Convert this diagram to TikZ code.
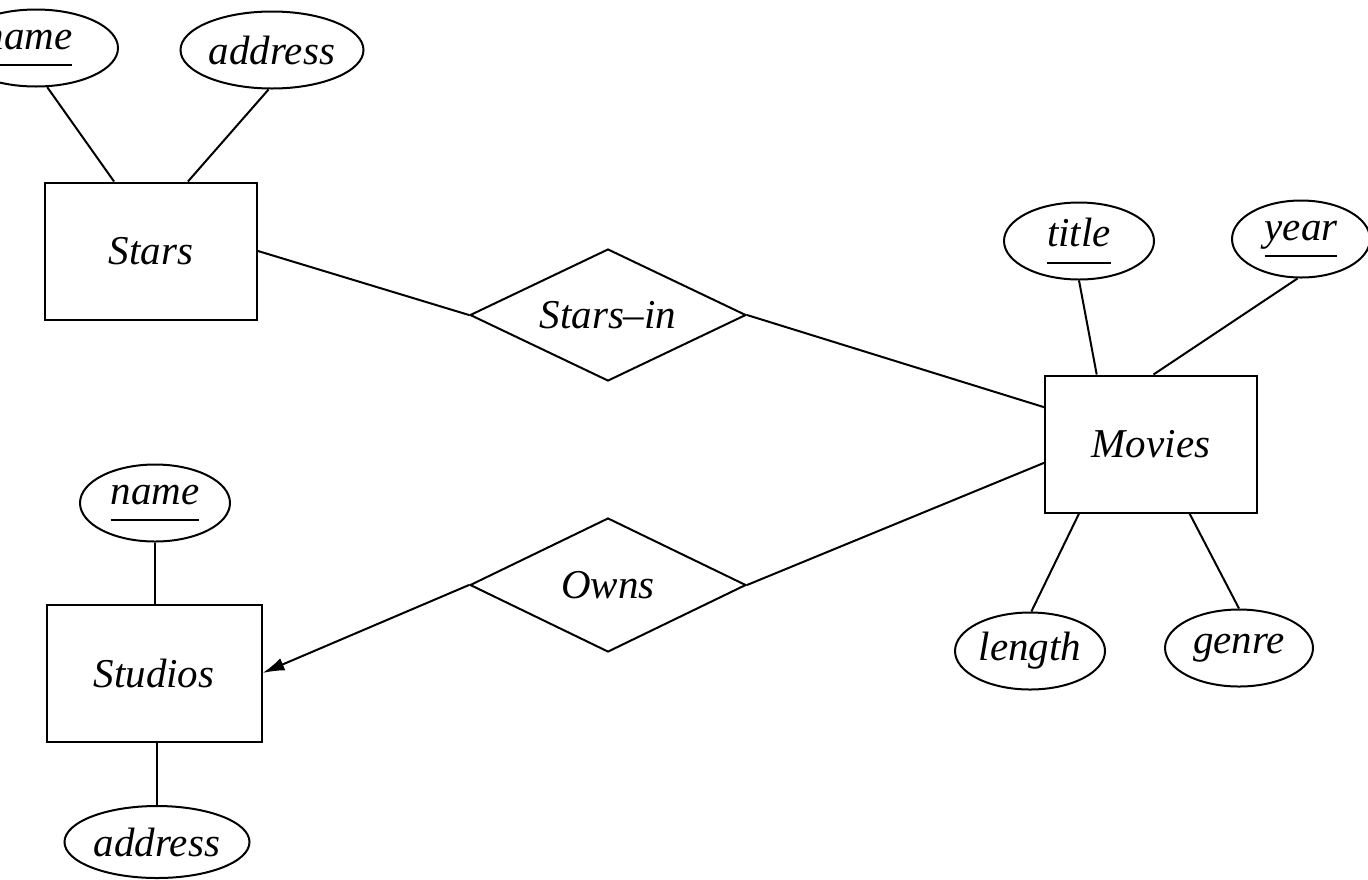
\documentclass[tikz,border=0pt]{standalone}
\usepackage{fontspec}
\setmainfont{Liberation Serif}
\usetikzlibrary{shapes.geometric,arrows.meta}
% key attribute: text with a rule set well below the baseline
\newcommand\keyattr[1]{\setbox0=\hbox{#1}\rlap{\copy0}\raisebox{-8.5pt}{\rule{\wd0}{0.9pt}}}
\begin{document}
\begin{tikzpicture}[x=0.5pt,y=-0.5pt,line width=1pt,
  font=\fontsize{20.5}{24}\selectfont\itshape,
  entity/.style={draw,rectangle,inner sep=0pt,minimum width=106pt,minimum height=68.5pt},
  attr/.style={draw,ellipse,inner sep=0pt,minimum height=38.5pt},
  rel/.style={draw,diamond,aspect=2,inner sep=0pt,minimum width=138pt,minimum height=66pt},
  isa/.style={-{Latex[length=11pt,width=6.5pt]}}]
\useasboundingbox (0,0) rectangle (1368,879);
\clip (0,0) rectangle (1368,879);

% entity sets
\node[entity] (stars) at (151,251) {\raisebox{-2.5pt}{Stars}};
\node[entity] (movies) at (1151,444) {\raisebox{-2.5pt}{Movies}};
\node[entity,minimum width=107.5pt] (studios) at (154,673) {\raisebox{-2pt}{Studios}};

% relationships
\node[rel] (starsin) at (608,315) {Stars\textendash in};
\node[rel,minimum height=67pt] (owns) at (608,585) {Owns};

% attributes
\node[attr,minimum width=82pt] (starname) at (36,48) {\hspace*{-8pt}\keyattr{name}};
\node[attr,minimum width=91.5pt] (staraddr) at (272,50) {address};
\node[attr,minimum width=75pt] (title) at (1079,241) {\keyattr{title}};
\node[attr,minimum width=69pt] (year) at (1301,239) {\keyattr{year}};
\node[attr,minimum width=75pt] (length) at (1030,651) {length};
\node[attr,minimum width=74pt] (genre) at (1239,648) {genre};
\node[attr,minimum width=75pt] (stuname) at (155,503) {\keyattr{name}};
\node[attr,minimum width=92.5pt,minimum height=36pt] (stuaddr) at (157,842) {address};

% attribute links
\draw (starname.286) -- (stars.118);
\draw (staraddr.265) -- (stars.62);
\draw (title.south) -- (movies.128);
\draw (year.265) -- (movies.88);
\draw (movies.224) -- (length.88);
\draw (movies.299) -- (genre.north);
\draw (stuname.south) -- (stuname.south |- studios.north);
\draw (stuaddr.north) -- (stuaddr.north |- studios.south);

% relationship links
\draw (stars.east) -- (starsin.west);
\draw (starsin.east) -- (movies.161);
\draw (movies.190) -- (owns.east);
\draw[isa] (owns.west) -- (studios.east);
\end{tikzpicture}
\end{document}
